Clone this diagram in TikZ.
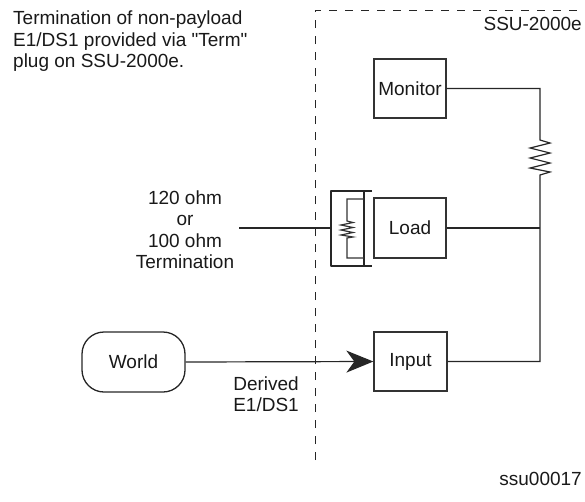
\documentclass[tikz,border=0pt]{standalone}
\usepackage{fontspec}
\newfontfamily\lsans{Liberation Sans}
\usetikzlibrary{arrows.meta}
\begin{document}
\begin{tikzpicture}[x=1pt,y=-1pt,
  every node/.style={font=\lsans\fontsize{19}{21.5}\selectfont, inner sep=0pt, text=black!90},
  unitbox/.style={draw=black!80, line width=1.3pt, minimum width=72pt, minimum height=59pt, fill=white},
  wire/.style={draw=black!85, line width=1.2pt},
  brk/.style={draw=black!85, line width=2pt},
  boundary/.style={draw=black!85, line width=1pt, dash pattern=on 8pt off 8pt},
  worldbox/.style={draw=black!85, line width=1.3pt, rounded corners=22pt, minimum width=103pt, minimum height=60pt}
]
\useasboundingbox (0,0) rectangle (585,501);

% boundary
\coordinate (bl) at (315,460);
\coordinate (tl) at (315,10);
\coordinate (tr) at (585,10);
\draw[boundary] (bl) -- (tl) -- (tr);

% texts
\node[anchor=west, align=left] (note) at (13,41.5) {Termination of non-payload\\E1/DS1 provided via "Term"\\plug on SSU-2000e.};
\node[anchor=base east] (ssu) at (582,30) {SSU-2000e};
\node[anchor=base east] (fig) at (582,485) {ssu00017};
\node[align=center] (term) at (185,229.5) {120 ohm\\or\\100 ohm\\Termination};
\node[anchor=east, align=right] (derived) at (299,394) {Derived\\E1/DS1};

% boxes
\node[unitbox] (monitor) at (410,88.5) {Monitor};
\node[unitbox, minimum height=60pt] (load) at (410,228) {Load};
\node[unitbox, minimum width=73pt] (input) at (410.5,361.5) {Input};
\node[worldbox] (world) at (133.5,362) {World};

% right-hand wiring with resistor
\coordinate (mc) at (540,88.5);
\coordinate (rt) at (540,140);
\coordinate (rb) at (540,175);
\coordinate (lc) at (540,228);
\coordinate (ic) at (540,361.5);
\draw[wire] (monitor.east) -- (mc) -- (rt)
  -- (550,143) -- (530,148) -- (550,153) -- (530,158) -- (550,163) -- (530,168) -- (550,172)
  -- (rb) -- (ic) -- (input.east);
\draw[wire] (load.east) -- (lc);

% termination plug
\coordinate (pl) at (331,228);
\coordinate (tw) at (239,228);
\draw[wire] (tw) -- (pl);
\draw[brk, line join=round] (372,191) -- (331,191) -- (331,266) -- (372,266);
\draw[brk] (364,191) -- (364,266);
\draw[draw=black!80, line width=1.2pt] (364,199) -- (347,199) -- (347,221)
  -- (353,222.5) -- (341,225) -- (353,227.5) -- (341,230) -- (353,232.5) -- (341,235) -- (353,237)
  -- (347,238) -- (347,258) -- (364,258);

% derived signal arrow
\draw[wire, -{Stealth[length=27pt, width=22pt, inset=8pt]}] (world.east) -- (input.west);
\end{tikzpicture}
\end{document}
